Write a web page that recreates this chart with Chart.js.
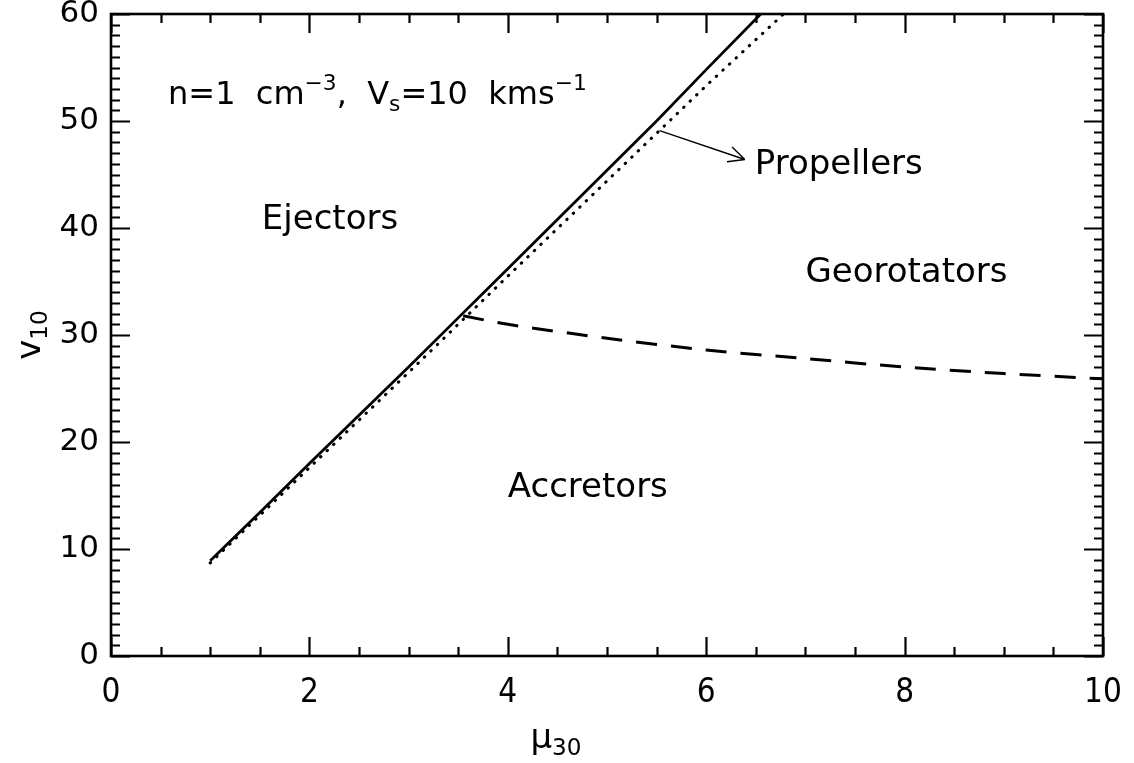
<!DOCTYPE html>
<html><head><meta charset="utf-8">
<script src="https://cdn.jsdelivr.net/npm/chart.js@4.4.0/dist/chart.umd.min.js"></script>
<style>html,body{margin:0;padding:0;background:#fff;} canvas{display:block}</style>
</head><body>
<canvas id="c" width="1134" height="763"></canvas>
<script>
// ---- data ----
const xTicks = [0, 2, 4, 6, 8, 10];
const yTicks = [0, 10, 20, 30, 40, 50, 60];
// ejector / propeller boundary (solid)
const solidMu = [1.0, 1.5, 2.0, 2.5, 3.0, 3.5, 4.0, 4.5, 5.0, 5.5, 6.0, 6.55];
const solidV  = [8.9, 13.4, 18.0, 22.5, 27.0, 31.6, 36.2, 40.8, 45.4, 50.0, 54.8, 60.0];
// propeller boundary (dotted)
const dottedMu = [1.0, 2.0, 3.0, 4.0, 5.0, 6.0, 6.78];
const dottedV  = [8.7, 17.6, 26.5, 35.5, 44.4, 53.3, 60.0];
// accretor / georotator boundary (dashed)
const dashedMu = [3.55, 4, 5, 6, 7, 8, 9, 10];
const dashedV  = [31.8, 31.0, 29.7, 28.6, 27.8, 27.0, 26.4, 25.9];
const regionNames = ['Ejectors', 'Propellers', 'Georotators', 'Accretors'];

// ---- annotation placement (data coordinates) ----
const labelPlace = {
  Ejectors: [1.52, 40.7], Propellers: [6.49, 45.9],
  Georotators: [7.0, 35.8], Accretors: [4.0, 15.7]
};
const arrowPlace = { from: [5.53, 49.1], to: [6.39, 46.4] };
const notePlace = [0.575, 52.7];

const FONT = "'DejaVu Sans', sans-serif";
const pts = (xs, ys) => xs.map((x, i) => ({ x: x, y: ys[i] }));

function drawRich(ctx, x, y, parts, size) {
  let cx = x;
  ctx.textBaseline = 'alphabetic';
  ctx.textAlign = 'left';
  for (const [t, k] of parts) {
    let fs = size, dy = 0;
    if (k === 'sup') { fs = size * 0.68; dy = -size * 0.45; }
    if (k === 'sub') { fs = size * 0.68; dy = size * 0.2; }
    ctx.font = fs + 'px ' + FONT;
    ctx.fillText(t, cx, y + dy);
    cx += ctx.measureText(t).width;
  }
  return cx - x;
}
function richWidth(ctx, parts, size) {
  let w = 0;
  for (const [t, k] of parts) {
    const fs = (k === 'n') ? size : size * 0.68;
    ctx.font = fs + 'px ' + FONT;
    w += ctx.measureText(t).width;
  }
  return w;
}

const framePlugin = {
  id: 'frame',
  afterDatasetsDraw(chart) {
    const { ctx, chartArea: a, scales: { x, y } } = chart;
    ctx.save();
    ctx.strokeStyle = '#000';
    ctx.fillStyle = '#000';
    ctx.lineWidth = 2.6;
    ctx.strokeRect(a.left, a.top, a.right - a.left, a.bottom - a.top);
    ctx.lineWidth = 2.2;
    ctx.beginPath();
    for (let i = 0; i <= 20; i++) {
      const v = i * 0.5;
      const px = Math.round(x.getPixelForValue(v)) + 0.5;
      const len = (i % 4 === 0) ? 19 : 9;
      ctx.moveTo(px, a.bottom); ctx.lineTo(px, a.bottom - len);
      ctx.moveTo(px, a.top); ctx.lineTo(px, a.top + len);
    }
    for (let i = 0; i <= 60; i++) {
      const py = Math.round(y.getPixelForValue(i)) + 0.5;
      const len = (i % 10 === 0) ? 19 : 9;
      ctx.moveTo(a.left, py); ctx.lineTo(a.left + len, py);
      ctx.moveTo(a.right, py); ctx.lineTo(a.right - len, py);
    }
    ctx.stroke();

    // arrow
    const x0 = x.getPixelForValue(arrowPlace.from[0]), y0 = y.getPixelForValue(arrowPlace.from[1]);
    const x1 = x.getPixelForValue(arrowPlace.to[0]), y1 = y.getPixelForValue(arrowPlace.to[1]);
    const ang = Math.atan2(y1 - y0, x1 - x0);
    ctx.lineWidth = 1.4;
    ctx.beginPath();
    ctx.moveTo(x0, y0); ctx.lineTo(x1, y1);
    const hl = 18, ha = 0.45;
    ctx.moveTo(x1, y1); ctx.lineTo(x1 - hl * Math.cos(ang - ha), y1 - hl * Math.sin(ang - ha));
    ctx.moveTo(x1, y1); ctx.lineTo(x1 - hl * Math.cos(ang + ha), y1 - hl * Math.sin(ang + ha));
    ctx.stroke();

    // region labels
    ctx.textBaseline = 'middle';
    ctx.textAlign = 'left';
    ctx.font = '34px ' + FONT;
    for (const name of regionNames) {
      const p = labelPlace[name];
      ctx.fillText(name, x.getPixelForValue(p[0]), y.getPixelForValue(p[1]));
    }

    // note
    const note = [['n=1  cm', 'n'], ['−3', 'sup'], [',  V', 'n'], ['s', 'sub'], ['=10  kms', 'n'], ['−1', 'sup']];
    drawRich(ctx, x.getPixelForValue(notePlace[0]), y.getPixelForValue(notePlace[1]) + 12, note, 32);

    // axis titles
    const xt = [['μ', 'n'], ['30', 'sub']];
    const wx = richWidth(ctx, xt, 34);
    drawRich(ctx, 556 - wx / 2, 748, xt, 34);
    const yt = [['v', 'n'], ['10', 'sub']];
    const wy = richWidth(ctx, yt, 34);
    ctx.save();
    ctx.translate(40, (a.top + a.bottom) / 2);
    ctx.rotate(-Math.PI / 2);
    drawRich(ctx, -wy / 2, 0, yt, 34);
    ctx.restore();
    ctx.restore();
  }
};

new Chart(document.getElementById('c'), {
  type: 'scatter',
  data: {
    datasets: [
      { data: pts(solidMu, solidV), showLine: true, borderColor: '#000', borderWidth: 2.8, pointRadius: 0, tension: 0 },
      { data: pts(dottedMu, dottedV), showLine: true, borderColor: '#000', borderWidth: 3, borderDash: [0.5, 8.5], borderCapStyle: 'round', pointRadius: 0, tension: 0 },
      { data: pts(dashedMu, dashedV), showLine: true, borderColor: '#000', borderWidth: 3, borderDash: [21, 14], pointRadius: 0, tension: 0.3 }
    ]
  },
  options: {
    responsive: false,
    animation: false,
    layout: { padding: { top: 14, right: 31, left: 0, bottom: 0 } },
    plugins: { legend: { display: false }, tooltip: { enabled: false } },
    scales: {
      x: {
        type: 'linear', min: 0, max: 10,
        afterBuildTicks: s => { s.ticks = xTicks.map(v => ({ value: v })); },
        afterFit: s => { s.height = 107; s.paddingLeft = 0; s.paddingRight = 0; },
        grid: { display: false, drawTicks: false },
        border: { display: false },
        ticks: { color: '#000', padding: 18, maxRotation: 0, font: { family: "'DejaVu Sans Condensed', 'DejaVu Sans', sans-serif", size: 33 } }
      },
      y: {
        type: 'linear', min: 0, max: 60,
        afterBuildTicks: s => { s.ticks = yTicks.map(v => ({ value: v })); },
        afterFit: s => { s.width = 111; s.paddingTop = 0; s.paddingBottom = 0; },
        grid: { display: false, drawTicks: false },
        border: { display: false },
        ticks: { color: '#000', padding: 12, font: { family: FONT, size: 31 } }
      }
    }
  },
  plugins: [framePlugin]
});
</script>
</body></html>
